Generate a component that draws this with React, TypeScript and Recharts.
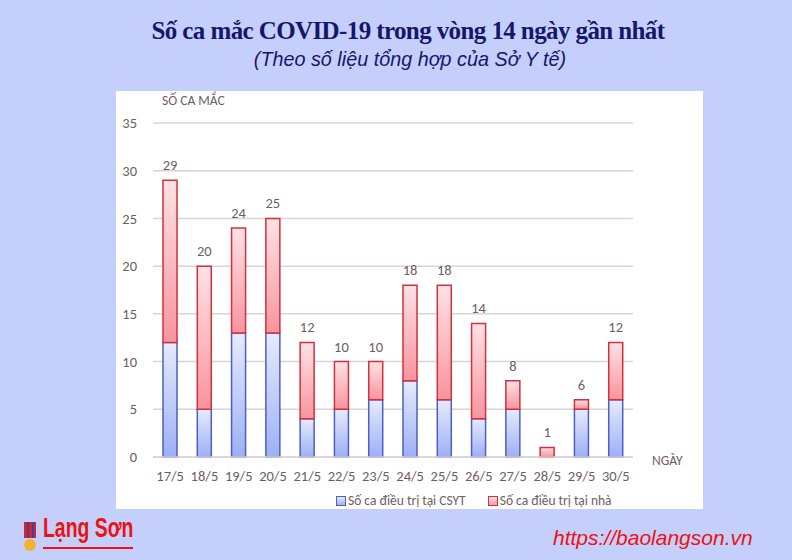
import React from 'react';
import { BarChart, Bar, XAxis, YAxis, CartesianGrid, LabelList } from 'recharts';

const days = ['17/5', '18/5', '19/5', '20/5', '21/5', '22/5', '23/5', '24/5', '25/5', '26/5', '27/5', '28/5', '29/5', '30/5'];
const csyt = [12, 5, 13, 13, 4, 5, 6, 8, 6, 4, 5, 0, 5, 6];
const atHome = [17, 15, 11, 12, 8, 5, 4, 10, 12, 10, 3, 1, 1, 6];
const yTicks = [0, 5, 10, 15, 20, 25, 30, 35];

const data = days.map((day, i) => ({
  day,
  csyt: csyt[i],
  home: atHome[i],
  total: csyt[i] + atHome[i],
}));

const TEXT = '#6e5d62';
const BLUE_LINE = '#4d5fc4';
const RED_LINE = '#d2303e';
const FONT = 'Calibri, Carlito, "Open Sans", "Noto Sans", sans-serif';

function LegendBox({ fill, stroke, label }: { fill: string; stroke: string; label: string }) {
  return (
    <span style={{ display: 'inline-flex', alignItems: 'center', marginRight: 22 }}>
      <span style={{ width: 8, height: 8, background: fill, border: `1px solid ${stroke}`, marginRight: 2 }} />
      <span>{label}</span>
    </span>
  );
}

export default function App() {
  return (
    <div style={{ position: 'absolute', left: 0, top: 0, width: 792, height: 560, background: '#c4cffc', overflow: 'hidden' }}>
      <div style={{
        position: 'absolute', top: 17, left: 12, width: 792, textAlign: 'center',
        fontFamily: '"Liberation Serif", "DejaVu Serif", serif', fontWeight: 'bold',
        fontSize: 25, color: '#16166a', letterSpacing: -0.6,
      }}>
        Số ca mắc COVID-19 trong vòng 14 ngày gần nhất
      </div>
      <div style={{
        position: 'absolute', top: 48, left: 14, width: 792, textAlign: 'center',
        fontFamily: '"Liberation Sans", Arial, sans-serif', fontStyle: 'italic',
        fontSize: 19.8, color: '#16166a',
      }}>
        (Theo số liệu tổng hợp của Sở Y tế)
      </div>

      <div style={{ position: 'absolute', left: 116, top: 91, width: 587, height: 418, background: '#ffffff' }}>
        <BarChart
          width={587}
          height={418}
          data={data}
          margin={{ top: 32, right: 70, left: 7, bottom: 22 }}
          style={{ fontFamily: FONT }}
        >
          <defs>
            <linearGradient id="gBlue" x1="0" y1="0" x2="0" y2="1">
              <stop offset="0%" stopColor="#e6ebfe" />
              <stop offset="100%" stopColor="#9db0f6" />
            </linearGradient>
            <linearGradient id="gRed" x1="0" y1="0" x2="0" y2="1">
              <stop offset="0%" stopColor="#ffe2e5" />
              <stop offset="100%" stopColor="#f8949e" />
            </linearGradient>
          </defs>
          <CartesianGrid vertical={false} stroke="#ddd2d5" strokeWidth={1.5} />
          <XAxis
            dataKey="day"
            height={30}
            axisLine={{ stroke: '#ddd2d5', strokeWidth: 1.5 }}
            tickLine={false}
            tick={{ fill: TEXT, fontSize: 14.5 }}
            tickMargin={8}
            interval={0}
          />
          <YAxis
            width={30}
            domain={[0, 35]}
            ticks={yTicks}
            axisLine={false}
            tickLine={false}
            tick={{ fill: TEXT, fontSize: 14.5 }}
            tickMargin={10}
          />
          <Bar dataKey="csyt" stackId="a" fill="url(#gBlue)" stroke={BLUE_LINE} strokeWidth={1.5} barSize={14} isAnimationActive={false} />
          <Bar dataKey="home" stackId="a" fill="url(#gRed)" stroke={RED_LINE} strokeWidth={1.5} barSize={14} isAnimationActive={false}>
            <LabelList dataKey="total" position="top" offset={10} fill={TEXT} fontSize={14.5} />
          </Bar>
        </BarChart>
        <div style={{ position: 'absolute', left: 46, top: 1, fontSize: 13.5, color: TEXT, fontFamily: FONT }}>
          SỐ CA MẮC
        </div>
        <div style={{ position: 'absolute', left: 536, top: 361, fontSize: 13.5, color: TEXT, fontFamily: FONT }}>
          NGÀY
        </div>
        <div style={{
          position: 'absolute', left: 220, top: 401, fontSize: 13.5, color: TEXT, whiteSpace: 'nowrap',
          fontFamily: FONT, display: 'flex', alignItems: 'center',
        }}>
          <LegendBox fill="linear-gradient(#e6ebfe, #9db0f6)" stroke={BLUE_LINE} label="Số ca điều trị tại CSYT" />
          <LegendBox fill="linear-gradient(#ffe2e5, #f8949e)" stroke={RED_LINE} label="Số ca điều trị tại nhà" />
        </div>
      </div>

      <div style={{ position: 'absolute', left: 22, top: 522, width: 16, height: 30 }}>
        <div style={{ width: 12, height: 16, margin: '0 auto', background: 'repeating-linear-gradient(90deg, #d22 0 3px, #34a 3px 5px)' }} />
        <div style={{ width: 12, height: 12, borderRadius: 6, background: '#f2b230', margin: '1px auto 0' }} />
      </div>
      <div style={{
        position: 'absolute', left: 43, top: 513, fontFamily: '"Liberation Sans", Arial, sans-serif',
        fontWeight: 'bold', fontSize: 27, color: '#ee1111', transform: 'scaleX(0.72)', transformOrigin: 'left top',
        whiteSpace: 'nowrap',
      }}>
        Lạng Sơn
      </div>
      <div style={{ position: 'absolute', left: 43, top: 547, width: 90, height: 2, background: '#ee1111' }} />
      <div style={{
        position: 'absolute', left: 553, top: 526, fontFamily: '"Liberation Sans", Arial, sans-serif',
        fontStyle: 'italic', fontSize: 21, color: '#ee1111',
      }}>
        https://baolangson.vn
      </div>
    </div>
  );
}
